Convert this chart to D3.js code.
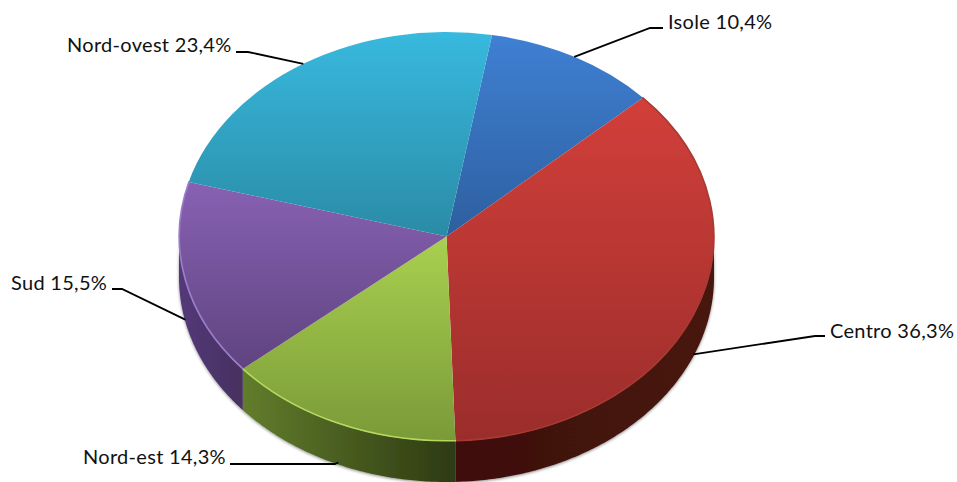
<!DOCTYPE html>
<html>
<head>
<meta charset="utf-8">
<script src="https://cdn.jsdelivr.net/npm/d3@7"></script>
<style>
    body { margin: 0; background: #fff; }
    text { font-family: Lato, "Open Sans", sans-serif; font-size: 20px; letter-spacing: 0.3px; fill: #111; }
</style>
</head>
<body>
<div id="wrapper"></div>
<script>
const categories = ["Isole", "Centro", "Nord-est", "Sud", "Nord-ovest"];
const values = [10.4, 36.3, 14.3, 15.5, 23.4];
const valueLabels = ["10,4%", "36,3%", "14,3%", "15,5%", "23,4%"];

// top face gradient [light, dark], wall gradient [left, right], rim highlight
const faceColors = [["#3f80d3", "#2d5f9f"], ["#d23f3a", "#9a2d2b"], ["#a9d04f", "#7a9a38"], ["#8861b3", "#5f4480"], ["#38b9de", "#2a8ba6"]];
const wallColors = [["#2d5f9f", "#1d3f6a"], ["#3f100f", "#471411"], ["#627d2c", "#2d3a12"], ["#54397a", "#46305f"], ["#2a8ba6", "#1b5c6e"]];
const rimColors = ["#4f8ed8", "#a83a34", "#b5d85e", "#9a7cc8", "#4fc4e4"];

// label anchor and leader elbow, in the same order as categories
const labelX = [668, 830, 83, 11, 67];
const labelY = [29, 338, 464, 290, 52];
const elbowX = [650, 815, 335, 122, 248];
const elbowY = [28, 336, 464, 289, 52];
const tailX = [663, 825, 230, 112, 236];

const dimension = { width: 957, height: 482 };
const cx = 446.5, cy = 236.5, rx = 267.5, ry = 204.5, depth = 41;
const startAngle = 9.8 * Math.PI / 180;

const svg = d3.select("#wrapper").append("svg")
    .attr("width", dimension.width)
    .attr("height", dimension.height)
    .style("display", "block");

const defs = svg.append("defs");

const shadow = defs.append("filter").attr("id", "shadow")
    .attr("x", "-5%").attr("y", "-5%").attr("width", "110%").attr("height", "110%");
shadow.append("feDropShadow")
    .attr("dx", 0).attr("dy", 1).attr("stdDeviation", 1.6)
    .attr("flood-color", "#000").attr("flood-opacity", 0.45);

categories.forEach((c, i) => {
    const face = defs.append("linearGradient").attr("id", `face${i}`)
        .attr("x1", 0).attr("y1", 0).attr("x2", 0).attr("y2", 1);
    face.append("stop").attr("offset", 0).attr("stop-color", faceColors[i][0]);
    face.append("stop").attr("offset", 1).attr("stop-color", faceColors[i][1]);

    const wall = defs.append("linearGradient").attr("id", `wall${i}`)
        .attr("x1", 0).attr("y1", 0).attr("x2", 1).attr("y2", 0);
    wall.append("stop").attr("offset", 0).attr("stop-color", wallColors[i][0]);
    wall.append("stop").attr("offset", 1).attr("stop-color", wallColors[i][1]);
});

const pie = d3.pie()
    .sort(null)
    .startAngle(startAngle)
    .endAngle(startAngle + 2 * Math.PI);

const slices = pie(values).map((d, i) => ({ ...d, i }));

const px = (a) => cx + rx * Math.sin(a);
const py = (a) => cy - ry * Math.cos(a);

// side wall: only the front half of the ellipse can be seen
const wallArea = d3.area()
    .x((a) => px(a))
    .y0((a) => py(a))
    .y1((a) => py(a) + depth);

const walls = svg.append("g").attr("filter", "url(#shadow)");

slices.forEach((d) => {
    // the last slice may wrap past 360 degrees, it is on the back side anyway
    const a0 = Math.max(d.startAngle, Math.PI / 2);
    const a1 = Math.min(d.endAngle, 3 * Math.PI / 2);
    if (a1 <= a0) return;
    const steps = d3.range(a0, a1, 0.01).concat([a1]);
    walls.append("path")
        .attr("d", wallArea(steps))
        .attr("fill", `url(#wall${d.i})`);
});

const topFace = svg.append("g")
    .attr("transform", `translate(${cx},${cy}) scale(1,${ry / rx})`);

const arc = d3.arc().innerRadius(0).outerRadius(rx);

topFace.selectAll("path.face")
    .data(slices)
    .enter()
    .append("path")
    .attr("class", "face")
    .attr("d", arc)
    .attr("fill", (d) => `url(#face${d.i})`);

// thin bevel along the lower edge only, the back edge has none in the picture
const rim = d3.arc().innerRadius(rx - 0.5).outerRadius(rx);

topFace.selectAll("path.rim")
    .data(slices.filter((d) => d.i > 0 && d.i < 4))
    .enter()
    .append("path")
    .attr("class", "rim")
    .attr("d", rim)
    .attr("fill", "none")
    .attr("stroke", (d) => rimColors[d.i])
    .attr("stroke-width", 1.2)
    .attr("vector-effect", "non-scaling-stroke");

// leader lines start from the middle of each slice, on the wall for the front ones
const leader = d3.line();

slices.forEach((d) => {
    const mid = (d.startAngle + d.endAngle) / 2;
    const isFront = Math.cos(mid) < 0;
    const from = [px(mid), py(mid) + (isFront ? depth - 2 : 0)];
    svg.append("path")
        .attr("d", leader([from, [elbowX[d.i], elbowY[d.i]], [tailX[d.i], elbowY[d.i]]]))
        .attr("fill", "none")
        .attr("stroke", "#000")
        .attr("stroke-width", 1.8);

    svg.append("text")
        .attr("x", labelX[d.i])
        .attr("y", labelY[d.i])
        .text(`${categories[d.i]} ${valueLabels[d.i]}`);
});
</script>
</body>
</html>
